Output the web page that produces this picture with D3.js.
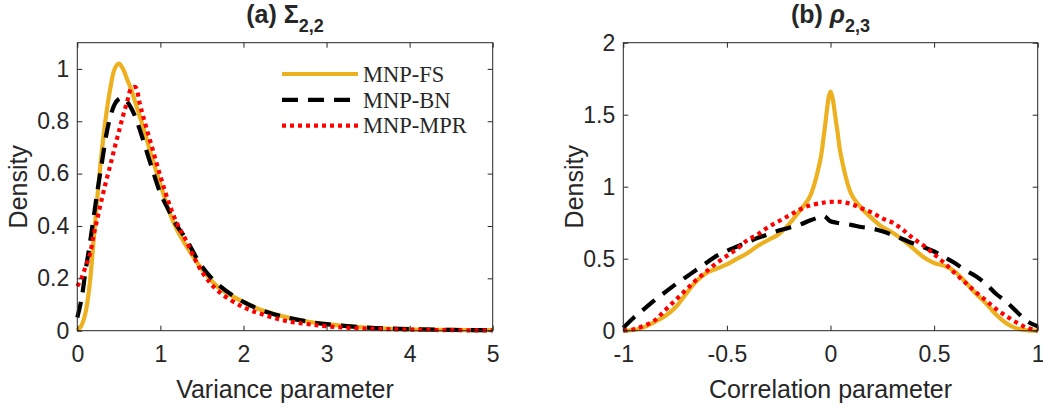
<!DOCTYPE html>
<html>
<head>
<meta charset="utf-8">
<script src="https://cdn.jsdelivr.net/npm/d3@7"></script>
<style>
  body { margin: 0; background: #fff; }
  text { font-family: "Liberation Sans", Arial, sans-serif; fill: #262626; }
</style>
</head>
<body>
<div id="container"></div>
<script>
// panel (a) : variance parameter
var varX = [0, 0.05, 0.1, 0.15, 0.2, 0.25, 0.3, 0.35, 0.4, 0.45, 0.5, 0.55, 0.6, 0.65, 0.7, 0.75, 0.8, 0.9, 1.0, 1.1, 1.2, 1.3, 1.5, 1.7, 2.0, 2.25, 2.5, 2.75, 3.0, 3.5, 4.0, 4.5, 5.0]
var varFS = [0, 0.02, 0.07, 0.18, 0.36, 0.54, 0.70, 0.83, 0.93, 1.0, 1.02, 1.0, 0.96, 0.92, 0.87, 0.82, 0.77, 0.66, 0.56, 0.46, 0.385, 0.33, 0.235, 0.165, 0.11, 0.075, 0.053, 0.036, 0.025, 0.011, 0.005, 0.003, 0.002]
var varBN = [0.05, 0.12, 0.23, 0.33, 0.44, 0.55, 0.65, 0.75, 0.82, 0.865, 0.885, 0.89, 0.875, 0.85, 0.815, 0.77, 0.72, 0.62, 0.525, 0.46, 0.40, 0.355, 0.245, 0.175, 0.11, 0.075, 0.052, 0.036, 0.025, 0.012, 0.006, 0.003, 0.002]
var varMPR = [0.17, 0.20, 0.245, 0.29, 0.37, 0.44, 0.51, 0.575, 0.635, 0.70, 0.76, 0.82, 0.875, 0.925, 0.93, 0.87, 0.81, 0.70, 0.59, 0.49, 0.41, 0.35, 0.225, 0.15, 0.09, 0.06, 0.038, 0.026, 0.017, 0.008, 0.004, 0.002, 0.001]

// panel (b) : correlation parameter
var corX = [-1, -0.95, -0.9, -0.85, -0.8, -0.75, -0.7, -0.65, -0.6, -0.55, -0.5, -0.45, -0.4, -0.35, -0.3, -0.25, -0.2, -0.15, -0.1, -0.05, -0.03, 0, 0.03, 0.05, 0.1, 0.15, 0.2, 0.25, 0.3, 0.35, 0.4, 0.45, 0.5, 0.55, 0.6, 0.65, 0.7, 0.75, 0.8, 0.85, 0.9, 0.95, 1]
var corFS = [0, 0.005, 0.025, 0.06, 0.10, 0.16, 0.25, 0.34, 0.40, 0.43, 0.46, 0.50, 0.54, 0.59, 0.63, 0.67, 0.74, 0.83, 0.93, 1.18, 1.38, 1.66, 1.42, 1.22, 0.95, 0.85, 0.78, 0.72, 0.68, 0.63, 0.57, 0.51, 0.47, 0.45, 0.41, 0.34, 0.26, 0.19, 0.11, 0.05, 0.015, 0.002, 0]
var corBN = [0.02, 0.09, 0.15, 0.21, 0.265, 0.32, 0.37, 0.42, 0.47, 0.52, 0.555, 0.585, 0.615, 0.645, 0.67, 0.695, 0.715, 0.735, 0.765, 0.79, 0.795, 0.76, 0.75, 0.745, 0.735, 0.72, 0.71, 0.69, 0.665, 0.635, 0.605, 0.58, 0.55, 0.51, 0.47, 0.42, 0.38, 0.325, 0.255, 0.20, 0.13, 0.065, 0.03]
var corMPR = [0, 0.01, 0.035, 0.07, 0.14, 0.21, 0.28, 0.35, 0.41, 0.47, 0.52, 0.57, 0.63, 0.67, 0.72, 0.76, 0.80, 0.84, 0.87, 0.885, 0.89, 0.895, 0.895, 0.895, 0.88, 0.85, 0.82, 0.78, 0.75, 0.70, 0.64, 0.59, 0.53, 0.47, 0.40, 0.335, 0.27, 0.21, 0.15, 0.10, 0.055, 0.02, 0]

var legendNames = ["MNP-FS", "MNP-BN", "MNP-MPR"]
var colors = ["#EDB120", "#000000", "#FF0000"]
var dashes = [null, "16,10", "4,4"]

var ancho = 1043, alto = 407
var svg = d3.select("#container").append("svg")
  .attr("width", ancho).attr("height", alto)

function panel(opts) {
  var x = d3.scaleLinear().domain(opts.xdom).range([opts.left, opts.right])
  var y = d3.scaleLinear().domain(opts.ydom).range([330.7, 42.7])
  var g = svg.append("g")

  // lines (FS, BN, MPR in that order)
  var linea = d3.line().curve(d3.curveCatmullRom.alpha(0.5))
  opts.series.forEach(function(s, i) {
    var pts = opts.xs.map(function(v, j) { return [x(v), y(s[j])] })
    g.append("path")
      .attr("d", linea(pts))
      .attr("fill", "none")
      .attr("stroke", colors[i])
      .attr("stroke-width", 4.2)
      .attr("stroke-dasharray", dashes[i])
  })

  // axes, ticks inside
  function style(ax) {
    ax.select(".domain").remove()
    ax.selectAll(".tick line").attr("stroke", "#262626")
    ax.selectAll("text").style("font-size", "23px").attr("fill", "#262626")
  }
  g.append("g").attr("transform", "translate(0,330.7)")
    .call(d3.axisBottom(x).tickValues(opts.xticks).tickFormat(opts.xfmt).tickSize(-5).tickPadding(15))
    .call(style)
  g.append("g").attr("transform", "translate(0,42.7)")
    .call(d3.axisTop(x).tickValues(opts.xticks).tickFormat("").tickSize(-5))
    .call(style)
  g.append("g").attr("transform", "translate(" + opts.left + ",0)")
    .call(d3.axisLeft(y).tickValues(opts.yticks).tickFormat(opts.yfmt).tickSize(-5).tickPadding(8))
    .call(style)
  g.append("g").attr("transform", "translate(" + opts.right + ",0)")
    .call(d3.axisRight(y).tickValues(opts.yticks).tickFormat("").tickSize(-5))
    .call(style)
  g.selectAll(".tick text").attr("font-family", null)

  g.append("rect")
    .attr("x", opts.left).attr("y", 42.7)
    .attr("width", opts.right - opts.left).attr("height", 288)
    .attr("fill", "none").attr("stroke", "#262626").attr("stroke-width", 1)

  // labels
  var cx = (opts.left + opts.right) / 2
  g.append("text").attr("x", cx).attr("y", 398)
    .attr("text-anchor", "middle").style("font-size", "25px")
    .text(opts.xlabel)
  g.append("text")
    .attr("transform", "translate(" + opts.ylabx + ",186.7) rotate(-90)")
    .attr("text-anchor", "middle").style("font-size", "25px")
    .text("Density")

  var t = g.append("text").attr("x", cx).attr("y", 23)
    .attr("text-anchor", "middle").style("font-size", "25px").style("font-weight", "bold")
  t.append("tspan").text(opts.titlePre)
  t.append("tspan").text(opts.titleSym).style("font-style", opts.symItalic ? "italic" : "normal")
  t.append("tspan").attr("dy", 9).style("font-size", "18px").text(opts.titleSub)

  return { g: g, x: x, y: y }
}

var fmt = function(d) { return String(d) }

var pa = panel({
  left: 77.3, right: 492.7, xdom: [0, 5], ydom: [0, 1.1],
  xs: varX, series: [varFS, varBN, varMPR],
  xticks: [0, 1, 2, 3, 4, 5], yticks: [0, 0.2, 0.4, 0.6, 0.8, 1],
  xfmt: fmt, yfmt: fmt,
  xlabel: "Variance parameter", ylabx: 27,
  titlePre: "(a) ", titleSym: "\u03A3", symItalic: false, titleSub: "2,2"
})

panel({
  left: 623.3, right: 1037.7, xdom: [-1, 1], ydom: [0, 2],
  xs: corX, series: [corFS, corBN, corMPR],
  xticks: [-1, -0.5, 0, 0.5, 1], yticks: [0, 0.5, 1, 1.5, 2],
  xfmt: fmt, yfmt: fmt,
  xlabel: "Correlation parameter", ylabx: 583,
  titlePre: "(b) ", titleSym: "\u03C1", symItalic: true, titleSub: "2,3"
})

// legend in panel (a)
var ley = pa.g.append("g")
legendNames.forEach(function(n, i) {
  var yy = 74 + i * 25.8
  ley.append("line")
    .attr("x1", 282).attr("x2", 358).attr("y1", yy).attr("y2", yy)
    .attr("stroke", colors[i]).attr("stroke-width", 4.2)
    .attr("stroke-dasharray", dashes[i])
  ley.append("text").attr("x", 363).attr("y", yy + 7.8)
    .style("font-family", "'Liberation Serif', 'Times New Roman', serif")
    .style("font-size", "22.5px").attr("fill", "#000")
    .text(n)
})
</script>
</body>
</html>
